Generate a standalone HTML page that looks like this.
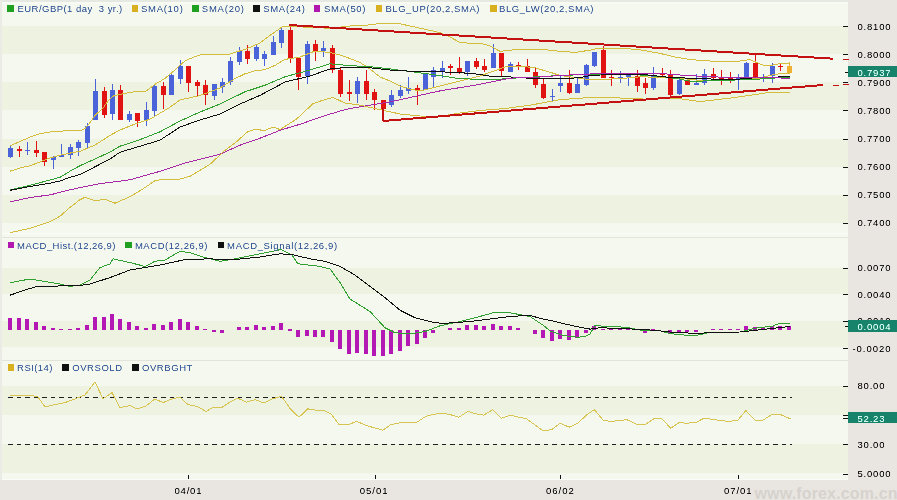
<!DOCTYPE html><html><head><meta charset="utf-8"><style>html,body{margin:0;padding:0;background:#e9e6e2;}svg{display:block}text{font-family:"Liberation Sans",sans-serif}</style></head><body>
<svg width="897" height="500" viewBox="0 0 897 500" shape-rendering="crispEdges">
<defs><filter id="crisp" x="0" y="0" width="897" height="500" filterUnits="userSpaceOnUse" color-interpolation-filters="sRGB"><feComponentTransfer><feFuncA type="linear" slope="1.35" intercept="-0.1"/></feComponentTransfer></filter></defs>
<rect x="0" y="0" width="897" height="500" fill="#e9e6e2"/>
<rect x="0" y="0" width="2" height="480" fill="#ebebe6"/>
<rect x="2" y="0" width="846" height="480" fill="#f5f8ef"/>
<rect x="2" y="26.1" width="846" height="28.1" fill="#eef2e1"/>
<rect x="2" y="82.3" width="846" height="28.1" fill="#eef2e1"/>
<rect x="2" y="138.5" width="846" height="28.1" fill="#eef2e1"/>
<rect x="2" y="194.7" width="846" height="28.1" fill="#eef2e1"/>
<rect x="2" y="267.6" width="846" height="26.6" fill="#eef2e1"/>
<rect x="2" y="320.8" width="846" height="26.6" fill="#eef2e1"/>
<rect x="2" y="385.8" width="846" height="29.1" fill="#eef2e1"/>
<rect x="2" y="444.0" width="846" height="29.1" fill="#eef2e1"/>
<rect x="2" y="0" width="846" height="2" fill="#e6e8e2"/>
<rect x="2" y="2" width="846" height="2" fill="#f8faf4"/>
<rect x="2" y="233" width="846" height="1" fill="#fbfcf8"/>
<rect x="2" y="237" width="846" height="1" fill="#e2e4da"/>
<rect x="2" y="360" width="846" height="1" fill="#e2e4da"/>
<rect x="2" y="479" width="846" height="1" fill="#fbfcf8"/>
<rect x="10" y="145" width="1" height="13" fill="#4a63d8"/>
<rect x="8" y="148" width="5" height="9" fill="#4a63d8"/>
<rect x="19" y="146" width="1" height="11" fill="#e01212"/>
<rect x="17" y="149" width="5" height="2" fill="#e01212"/>
<rect x="27" y="142" width="1" height="13" fill="#4a63d8"/>
<rect x="25" y="150" width="5" height="1" fill="#4a63d8"/>
<rect x="36" y="141" width="1" height="16" fill="#e01212"/>
<rect x="34" y="150" width="5" height="3" fill="#e01212"/>
<rect x="44" y="152" width="1" height="14" fill="#e01212"/>
<rect x="42" y="152" width="5" height="10" fill="#e01212"/>
<rect x="53" y="156" width="1" height="13" fill="#4a63d8"/>
<rect x="51" y="157" width="5" height="3" fill="#4a63d8"/>
<rect x="61" y="144" width="1" height="13" fill="#4a63d8"/>
<rect x="59" y="155" width="5" height="2" fill="#4a63d8"/>
<rect x="70" y="144" width="1" height="15" fill="#4a63d8"/>
<rect x="68" y="147" width="5" height="8" fill="#4a63d8"/>
<rect x="78" y="140" width="1" height="16" fill="#4a63d8"/>
<rect x="76" y="142" width="5" height="6" fill="#4a63d8"/>
<rect x="87" y="123" width="1" height="25" fill="#4a63d8"/>
<rect x="85" y="126" width="5" height="17" fill="#4a63d8"/>
<rect x="95" y="79" width="1" height="41" fill="#4a63d8"/>
<rect x="93" y="91" width="5" height="29" fill="#4a63d8"/>
<rect x="104" y="87" width="1" height="31" fill="#e01212"/>
<rect x="102" y="91" width="5" height="24" fill="#e01212"/>
<rect x="112" y="84" width="1" height="36" fill="#4a63d8"/>
<rect x="110" y="90" width="5" height="24" fill="#4a63d8"/>
<rect x="120" y="85" width="1" height="35" fill="#e01212"/>
<rect x="118" y="90" width="5" height="30" fill="#e01212"/>
<rect x="129" y="111" width="1" height="11" fill="#4a63d8"/>
<rect x="127" y="114" width="5" height="6" fill="#4a63d8"/>
<rect x="137" y="113" width="1" height="14" fill="#e01212"/>
<rect x="135" y="113" width="5" height="8" fill="#e01212"/>
<rect x="146" y="102" width="1" height="24" fill="#4a63d8"/>
<rect x="144" y="110" width="5" height="10" fill="#4a63d8"/>
<rect x="154" y="84" width="1" height="33" fill="#4a63d8"/>
<rect x="152" y="86" width="5" height="25" fill="#4a63d8"/>
<rect x="163" y="82" width="1" height="27" fill="#e01212"/>
<rect x="161" y="86" width="5" height="9" fill="#e01212"/>
<rect x="171" y="74" width="1" height="21" fill="#4a63d8"/>
<rect x="169" y="75" width="5" height="20" fill="#4a63d8"/>
<rect x="180" y="60" width="1" height="24" fill="#4a63d8"/>
<rect x="178" y="66" width="5" height="13" fill="#4a63d8"/>
<rect x="188" y="66" width="1" height="26" fill="#e01212"/>
<rect x="186" y="66" width="5" height="17" fill="#e01212"/>
<rect x="197" y="80" width="1" height="17" fill="#e01212"/>
<rect x="195" y="82" width="5" height="4" fill="#e01212"/>
<rect x="205" y="80" width="1" height="25" fill="#e01212"/>
<rect x="203" y="85" width="5" height="10" fill="#e01212"/>
<rect x="214" y="84" width="1" height="16" fill="#4a63d8"/>
<rect x="212" y="84" width="5" height="12" fill="#4a63d8"/>
<rect x="222" y="78" width="1" height="15" fill="#4a63d8"/>
<rect x="220" y="82" width="5" height="5" fill="#4a63d8"/>
<rect x="230" y="57" width="1" height="28" fill="#4a63d8"/>
<rect x="228" y="61" width="5" height="21" fill="#4a63d8"/>
<rect x="239" y="47" width="1" height="18" fill="#4a63d8"/>
<rect x="237" y="51" width="5" height="11" fill="#4a63d8"/>
<rect x="247" y="45" width="1" height="19" fill="#e01212"/>
<rect x="245" y="51" width="5" height="8" fill="#e01212"/>
<rect x="256" y="44" width="1" height="17" fill="#4a63d8"/>
<rect x="254" y="47" width="5" height="12" fill="#4a63d8"/>
<rect x="264" y="51" width="1" height="15" fill="#4a63d8"/>
<rect x="262" y="54" width="5" height="5" fill="#4a63d8"/>
<rect x="273" y="36" width="1" height="19" fill="#4a63d8"/>
<rect x="271" y="42" width="5" height="13" fill="#4a63d8"/>
<rect x="281" y="27" width="1" height="21" fill="#4a63d8"/>
<rect x="279" y="30" width="5" height="13" fill="#4a63d8"/>
<rect x="290" y="27" width="1" height="36" fill="#e01212"/>
<rect x="288" y="30" width="5" height="28" fill="#e01212"/>
<rect x="298" y="58" width="1" height="32" fill="#e01212"/>
<rect x="296" y="58" width="5" height="19" fill="#e01212"/>
<rect x="307" y="41" width="1" height="43" fill="#4a63d8"/>
<rect x="305" y="44" width="5" height="32" fill="#4a63d8"/>
<rect x="315" y="40" width="1" height="21" fill="#e01212"/>
<rect x="313" y="44" width="5" height="7" fill="#e01212"/>
<rect x="323" y="41" width="1" height="16" fill="#4a63d8"/>
<rect x="321" y="48" width="5" height="3" fill="#4a63d8"/>
<rect x="332" y="45" width="1" height="28" fill="#e01212"/>
<rect x="330" y="48" width="5" height="22" fill="#e01212"/>
<rect x="340" y="68" width="1" height="29" fill="#e01212"/>
<rect x="338" y="70" width="5" height="24" fill="#e01212"/>
<rect x="349" y="80" width="1" height="21" fill="#e01212"/>
<rect x="347" y="92" width="5" height="2" fill="#e01212"/>
<rect x="357" y="77" width="1" height="26" fill="#4a63d8"/>
<rect x="355" y="81" width="5" height="13" fill="#4a63d8"/>
<rect x="366" y="70" width="1" height="30" fill="#e01212"/>
<rect x="364" y="81" width="5" height="13" fill="#e01212"/>
<rect x="374" y="89" width="1" height="21" fill="#e01212"/>
<rect x="372" y="92" width="5" height="8" fill="#e01212"/>
<rect x="383" y="100" width="1" height="21" fill="#e01212"/>
<rect x="381" y="100" width="5" height="9" fill="#e01212"/>
<rect x="391" y="90" width="1" height="17" fill="#4a63d8"/>
<rect x="389" y="95" width="5" height="10" fill="#4a63d8"/>
<rect x="400" y="85" width="1" height="13" fill="#4a63d8"/>
<rect x="398" y="90" width="5" height="6" fill="#4a63d8"/>
<rect x="408" y="77" width="1" height="17" fill="#4a63d8"/>
<rect x="406" y="88" width="5" height="3" fill="#4a63d8"/>
<rect x="417" y="85" width="1" height="20" fill="#e01212"/>
<rect x="415" y="88" width="5" height="2" fill="#e01212"/>
<rect x="425" y="73" width="1" height="17" fill="#4a63d8"/>
<rect x="423" y="74" width="5" height="16" fill="#4a63d8"/>
<rect x="433" y="67" width="1" height="21" fill="#4a63d8"/>
<rect x="431" y="70" width="5" height="7" fill="#4a63d8"/>
<rect x="442" y="61" width="1" height="17" fill="#4a63d8"/>
<rect x="440" y="68" width="5" height="3" fill="#4a63d8"/>
<rect x="450" y="64" width="1" height="11" fill="#e01212"/>
<rect x="448" y="66" width="5" height="2" fill="#e01212"/>
<rect x="459" y="57" width="1" height="17" fill="#e01212"/>
<rect x="457" y="68" width="5" height="5" fill="#e01212"/>
<rect x="467" y="61" width="1" height="15" fill="#4a63d8"/>
<rect x="465" y="61" width="5" height="11" fill="#4a63d8"/>
<rect x="476" y="58" width="1" height="11" fill="#e01212"/>
<rect x="474" y="61" width="5" height="6" fill="#e01212"/>
<rect x="484" y="59" width="1" height="13" fill="#e01212"/>
<rect x="482" y="66" width="5" height="4" fill="#e01212"/>
<rect x="493" y="44" width="1" height="24" fill="#4a63d8"/>
<rect x="491" y="53" width="5" height="15" fill="#4a63d8"/>
<rect x="501" y="53" width="1" height="23" fill="#e01212"/>
<rect x="499" y="53" width="5" height="18" fill="#e01212"/>
<rect x="510" y="62" width="1" height="10" fill="#4a63d8"/>
<rect x="508" y="64" width="5" height="8" fill="#4a63d8"/>
<rect x="518" y="62" width="1" height="8" fill="#e01212"/>
<rect x="516" y="65" width="5" height="2" fill="#e01212"/>
<rect x="527" y="59" width="1" height="13" fill="#e01212"/>
<rect x="525" y="66" width="5" height="6" fill="#e01212"/>
<rect x="535" y="67" width="1" height="21" fill="#e01212"/>
<rect x="533" y="72" width="5" height="13" fill="#e01212"/>
<rect x="543" y="78" width="1" height="21" fill="#e01212"/>
<rect x="541" y="84" width="5" height="14" fill="#e01212"/>
<rect x="552" y="89" width="1" height="12" fill="#4a63d8"/>
<rect x="550" y="96" width="5" height="1" fill="#4a63d8"/>
<rect x="560" y="76" width="1" height="16" fill="#4a63d8"/>
<rect x="558" y="83" width="5" height="3" fill="#4a63d8"/>
<rect x="569" y="70" width="1" height="24" fill="#e01212"/>
<rect x="567" y="83" width="5" height="10" fill="#e01212"/>
<rect x="577" y="78" width="1" height="15" fill="#4a63d8"/>
<rect x="575" y="84" width="5" height="9" fill="#4a63d8"/>
<rect x="586" y="64" width="1" height="22" fill="#4a63d8"/>
<rect x="584" y="65" width="5" height="20" fill="#4a63d8"/>
<rect x="594" y="52" width="1" height="15" fill="#4a63d8"/>
<rect x="592" y="52" width="5" height="14" fill="#4a63d8"/>
<rect x="603" y="46" width="1" height="32" fill="#e01212"/>
<rect x="601" y="50" width="5" height="28" fill="#e01212"/>
<rect x="611" y="70" width="1" height="16" fill="#e01212"/>
<rect x="609" y="77" width="5" height="1" fill="#e01212"/>
<rect x="620" y="71" width="1" height="12" fill="#4a63d8"/>
<rect x="618" y="77" width="5" height="1" fill="#4a63d8"/>
<rect x="628" y="74" width="1" height="12" fill="#4a63d8"/>
<rect x="626" y="74" width="5" height="3" fill="#4a63d8"/>
<rect x="637" y="70" width="1" height="22" fill="#e01212"/>
<rect x="635" y="76" width="5" height="10" fill="#e01212"/>
<rect x="645" y="78" width="1" height="16" fill="#e01212"/>
<rect x="643" y="83" width="5" height="5" fill="#e01212"/>
<rect x="653" y="67" width="1" height="23" fill="#4a63d8"/>
<rect x="651" y="76" width="5" height="12" fill="#4a63d8"/>
<rect x="662" y="68" width="1" height="9" fill="#e01212"/>
<rect x="660" y="74" width="5" height="1" fill="#e01212"/>
<rect x="670" y="70" width="1" height="28" fill="#e01212"/>
<rect x="668" y="74" width="5" height="21" fill="#e01212"/>
<rect x="679" y="78" width="1" height="17" fill="#4a63d8"/>
<rect x="677" y="80" width="5" height="14" fill="#4a63d8"/>
<rect x="687" y="78" width="1" height="7" fill="#e01212"/>
<rect x="685" y="80" width="5" height="5" fill="#e01212"/>
<rect x="696" y="74" width="1" height="11" fill="#4a63d8"/>
<rect x="694" y="83" width="5" height="2" fill="#4a63d8"/>
<rect x="704" y="69" width="1" height="16" fill="#4a63d8"/>
<rect x="702" y="74" width="5" height="9" fill="#4a63d8"/>
<rect x="713" y="68" width="1" height="11" fill="#e01212"/>
<rect x="711" y="74" width="5" height="4" fill="#e01212"/>
<rect x="721" y="70" width="1" height="15" fill="#e01212"/>
<rect x="719" y="78" width="5" height="2" fill="#e01212"/>
<rect x="730" y="72" width="1" height="11" fill="#e01212"/>
<rect x="728" y="78" width="5" height="1" fill="#e01212"/>
<rect x="738" y="74" width="1" height="16" fill="#4a63d8"/>
<rect x="736" y="78" width="5" height="1" fill="#4a63d8"/>
<rect x="746" y="62" width="1" height="16" fill="#4a63d8"/>
<rect x="744" y="63" width="5" height="16" fill="#4a63d8"/>
<rect x="755" y="55" width="1" height="23" fill="#e01212"/>
<rect x="753" y="63" width="5" height="16" fill="#e01212"/>
<rect x="763" y="74" width="1" height="8" fill="#4a63d8"/>
<rect x="761" y="78" width="5" height="1" fill="#4a63d8"/>
<rect x="772" y="63" width="1" height="20" fill="#4a63d8"/>
<rect x="770" y="66" width="5" height="10" fill="#4a63d8"/>
<rect x="780" y="64" width="1" height="7" fill="#e01212"/>
<rect x="778" y="66" width="5" height="1" fill="#e01212"/>
<rect x="789" y="62" width="1" height="12" fill="#f0b030"/>
<rect x="787" y="66" width="5" height="7" fill="#f0b030"/>
<polyline points="10.0,171.2 20.0,167.9 30.0,165.7 40.0,161.9 50.0,158.0 60.0,155.3 70.0,153.1 80.0,151.4 95.0,145.0 110.0,135.4 120.0,130.0 135.0,124.0 150.0,119.2 160.0,113.2 170.0,107.2 180.0,100.0 200.0,95.5 220.0,88.0 235.0,78.6 245.0,73.8 255.0,70.8 265.0,69.6 275.0,65.4 285.0,59.4 300.0,57.0 315.0,51.0 330.0,52.5 340.0,55.0 350.0,58.5 360.0,62.5 370.0,69.0 380.0,77.0 390.0,81.0 400.0,86.0 410.0,89.0 420.0,91.0 440.0,86.0 460.0,81.0 480.0,76.0 505.0,67.0 520.0,66.0 535.0,67.8 550.0,72.2 560.0,75.5 585.0,79.0 600.0,79.5 620.0,78.6 640.0,76.8 675.0,77.7 700.0,80.4 735.0,79.3 760.0,78.0 775.0,74.3 790.0,72.9" fill="none" stroke="#d4bc3c" stroke-width="1" shape-rendering="crispEdges"/>
<polyline points="10.0,189.8 30.0,185.4 50.0,180.0 60.0,177.3 70.0,171.2 80.0,165.7 95.0,159.0 110.0,152.0 120.0,146.2 140.0,139.6 160.0,131.8 180.0,121.0 200.0,112.0 220.0,104.0 245.0,91.8 265.0,85.2 285.0,76.8 310.0,70.0 330.0,63.8 350.0,65.6 370.0,66.7 390.0,68.9 415.0,72.2 440.0,75.5 460.0,78.8 480.0,79.2 500.0,79.2 520.0,77.7 560.0,75.5 590.0,74.4 620.0,74.6 640.0,75.0 660.0,76.4 680.0,79.0 690.0,81.3 720.0,80.6 760.0,79.0 790.0,77.0" fill="none" stroke="#30a030" stroke-width="1" shape-rendering="crispEdges"/>
<polyline points="10.0,190.3 30.0,186.5 50.0,183.2 60.0,181.0 70.0,177.3 80.0,174.5 95.0,166.8 110.0,159.0 120.0,152.2 140.0,146.2 160.0,140.2 180.0,127.0 200.0,120.0 220.0,114.0 240.0,104.0 260.0,95.4 285.0,82.0 310.0,76.0 330.0,69.0 350.0,67.0 370.0,67.8 390.0,70.0 420.0,71.8 440.0,71.8 460.0,72.6 480.0,74.4 490.0,76.2 505.0,76.6 520.0,77.7 540.0,78.8 560.0,78.8 580.0,77.7 590.0,75.5 620.0,74.1 640.0,74.1 670.0,77.5 700.0,78.5 730.0,79.9 750.0,78.1 775.0,77.1 790.0,76.7" fill="none" stroke="#101010" stroke-width="1" shape-rendering="crispEdges"/>
<polyline points="10.0,201.9 30.0,197.5 50.0,194.9 70.0,189.8 80.0,187.6 100.0,183.7 130.0,179.8 160.0,171.3 184.0,163.3 220.0,154.2 240.0,145.2 260.0,138.2 280.5,130.1 300.6,124.1 320.6,117.1 340.0,111.0 350.0,108.5 370.0,105.2 390.0,101.9 410.0,97.5 420.0,95.3 440.0,90.9 460.0,87.6 480.0,84.3 505.0,79.2 520.0,77.0 540.0,77.0 560.0,75.5 590.0,74.0 620.0,73.2 660.0,73.2 670.0,74.3 690.0,75.7 720.0,77.1 760.0,77.8 790.0,78.1" fill="none" stroke="#a828a8" stroke-width="1" shape-rendering="crispEdges"/>
<polyline points="10.0,145.9 20.0,141.5 30.0,137.1 40.0,133.8 50.0,132.0 60.0,131.2 70.0,130.5 80.0,131.0 85.0,128.5 90.0,122.6 95.0,115.4 103.0,108.2 108.0,101.0 114.0,95.4 120.0,94.6 130.0,92.2 146.0,91.0 155.0,84.4 165.0,78.4 175.0,70.0 180.0,65.2 185.0,61.0 190.0,58.6 200.0,55.0 220.0,54.4 230.0,54.0 246.0,49.0 260.0,43.0 272.0,34.0 282.0,27.0 290.0,26.0 310.0,27.6 330.0,28.2 350.0,26.0 370.0,24.9 380.0,23.4 400.0,23.8 415.0,27.1 430.0,30.4 440.0,32.6 450.0,37.0 460.0,42.5 475.0,43.6 480.0,43.2 490.0,45.8 500.0,51.3 520.0,49.1 540.0,49.1 560.0,51.3 575.0,52.4 590.0,50.2 600.0,48.0 620.0,48.0 640.0,49.8 660.0,53.4 675.0,57.0 690.0,59.6 710.0,61.0 740.0,61.0 750.0,59.6 758.0,63.1 765.0,65.9 772.0,65.2 780.0,63.5 790.0,63.1" fill="none" stroke="#d4bc3c" stroke-width="1" shape-rendering="crispEdges"/>
<polyline points="10.0,232.7 30.0,228.3 50.0,221.7 60.0,216.2 70.0,207.4 80.0,199.7 85.0,197.2 95.0,200.6 105.0,199.3 115.0,203.2 130.0,196.7 145.0,187.6 155.0,180.6 165.0,179.0 180.0,179.0 190.0,176.3 210.0,164.3 224.0,151.2 236.0,142.2 248.0,131.5 256.0,129.1 264.0,130.7 273.0,127.1 280.0,129.5 296.5,119.1 312.6,104.0 320.6,101.0 332.7,97.4 345.0,103.0 360.0,105.2 380.0,109.6 400.0,114.0 420.0,116.0 440.0,116.5 460.0,113.0 480.0,110.5 505.0,108.5 530.0,105.2 560.0,99.7 590.0,97.5 620.0,98.0 650.0,99.3 675.0,98.0 700.0,101.6 730.0,98.1 760.0,93.9 770.0,92.1 790.0,92.1" fill="none" stroke="#d4bc3c" stroke-width="1" shape-rendering="crispEdges"/>
<line x1="289" y1="25" x2="833" y2="58.7" stroke="#c41212" stroke-width="2" shape-rendering="crispEdges"/>
<line x1="383" y1="121" x2="823" y2="85" stroke="#c41212" stroke-width="2" shape-rendering="crispEdges"/>
<rect x="382" y="108" width="1.5" height="13" fill="#c41212"/>
<rect x="843" y="59" width="6" height="1" fill="#c41212"/>
<rect x="833" y="85" width="6" height="1" fill="#c41212"/>
<rect x="843" y="84" width="6" height="1" fill="#c41212"/>
<rect x="8" y="317.8" width="4" height="11.9" fill="#b418b4"/>
<rect x="17" y="317.8" width="4" height="11.9" fill="#b418b4"/>
<rect x="25" y="319.0" width="4" height="10.7" fill="#b418b4"/>
<rect x="34" y="321.5" width="4" height="8.2" fill="#b418b4"/>
<rect x="42" y="325.8" width="4" height="3.9" fill="#b418b4"/>
<rect x="51" y="327.8" width="4" height="1.9" fill="#b418b4"/>
<rect x="59" y="328.5" width="4" height="1.5" fill="#b418b4"/>
<rect x="68" y="328.5" width="4" height="1.5" fill="#b418b4"/>
<rect x="76" y="328.0" width="4" height="1.7" fill="#b418b4"/>
<rect x="85" y="324.5" width="4" height="5.2" fill="#b418b4"/>
<rect x="93" y="316.5" width="4" height="13.2" fill="#b418b4"/>
<rect x="102" y="316.5" width="4" height="13.2" fill="#b418b4"/>
<rect x="110" y="314.0" width="4" height="15.7" fill="#b418b4"/>
<rect x="118" y="319.0" width="4" height="10.7" fill="#b418b4"/>
<rect x="127" y="321.5" width="4" height="8.2" fill="#b418b4"/>
<rect x="135" y="325.8" width="4" height="3.9" fill="#b418b4"/>
<rect x="144" y="327.8" width="4" height="1.9" fill="#b418b4"/>
<rect x="152" y="324.0" width="4" height="5.7" fill="#b418b4"/>
<rect x="161" y="324.8" width="4" height="4.9" fill="#b418b4"/>
<rect x="169" y="321.5" width="4" height="8.2" fill="#b418b4"/>
<rect x="178" y="319.0" width="4" height="10.7" fill="#b418b4"/>
<rect x="186" y="321.5" width="4" height="8.2" fill="#b418b4"/>
<rect x="195" y="325.8" width="4" height="3.9" fill="#b418b4"/>
<rect x="203" y="328.5" width="4" height="1.5" fill="#b418b4"/>
<rect x="212" y="329.7" width="4" height="2.2" fill="#b418b4"/>
<rect x="220" y="329.7" width="4" height="3.4" fill="#b418b4"/>
<rect x="237" y="326.5" width="4" height="3.2" fill="#b418b4"/>
<rect x="245" y="326.5" width="4" height="3.2" fill="#b418b4"/>
<rect x="254" y="324.5" width="4" height="5.2" fill="#b418b4"/>
<rect x="262" y="326.5" width="4" height="3.2" fill="#b418b4"/>
<rect x="271" y="325.8" width="4" height="3.9" fill="#b418b4"/>
<rect x="279" y="323.3" width="4" height="6.4" fill="#b418b4"/>
<rect x="288" y="329.0" width="4" height="1.5" fill="#b418b4"/>
<rect x="296" y="329.7" width="4" height="7.7" fill="#b418b4"/>
<rect x="305" y="329.7" width="4" height="6.4" fill="#b418b4"/>
<rect x="313" y="329.7" width="4" height="7.7" fill="#b418b4"/>
<rect x="321" y="329.7" width="4" height="7.7" fill="#b418b4"/>
<rect x="330" y="329.7" width="4" height="12.7" fill="#b418b4"/>
<rect x="338" y="329.7" width="4" height="19.0" fill="#b418b4"/>
<rect x="347" y="329.7" width="4" height="24.0" fill="#b418b4"/>
<rect x="355" y="329.7" width="4" height="23.5" fill="#b418b4"/>
<rect x="364" y="329.7" width="4" height="24.0" fill="#b418b4"/>
<rect x="372" y="329.7" width="4" height="26.0" fill="#b418b4"/>
<rect x="381" y="329.7" width="4" height="26.5" fill="#b418b4"/>
<rect x="389" y="329.7" width="4" height="24.0" fill="#b418b4"/>
<rect x="398" y="329.7" width="4" height="21.5" fill="#b418b4"/>
<rect x="406" y="329.7" width="4" height="16.5" fill="#b418b4"/>
<rect x="415" y="329.7" width="4" height="13.9" fill="#b418b4"/>
<rect x="423" y="329.7" width="4" height="8.4" fill="#b418b4"/>
<rect x="431" y="329.7" width="4" height="3.4" fill="#b418b4"/>
<rect x="448" y="328.0" width="4" height="1.7" fill="#b418b4"/>
<rect x="457" y="328.0" width="4" height="1.7" fill="#b418b4"/>
<rect x="465" y="325.0" width="4" height="4.7" fill="#b418b4"/>
<rect x="474" y="325.0" width="4" height="4.7" fill="#b418b4"/>
<rect x="482" y="326.0" width="4" height="3.7" fill="#b418b4"/>
<rect x="491" y="323.9" width="4" height="5.8" fill="#b418b4"/>
<rect x="499" y="326.0" width="4" height="3.7" fill="#b418b4"/>
<rect x="508" y="326.0" width="4" height="3.7" fill="#b418b4"/>
<rect x="516" y="327.9" width="4" height="1.8" fill="#b418b4"/>
<rect x="533" y="329.7" width="4" height="4.5" fill="#b418b4"/>
<rect x="541" y="329.7" width="4" height="8.6" fill="#b418b4"/>
<rect x="550" y="329.7" width="4" height="11.2" fill="#b418b4"/>
<rect x="558" y="329.7" width="4" height="9.4" fill="#b418b4"/>
<rect x="567" y="329.7" width="4" height="10.6" fill="#b418b4"/>
<rect x="575" y="329.7" width="4" height="7.9" fill="#b418b4"/>
<rect x="584" y="329.7" width="4" height="3.3" fill="#b418b4"/>
<rect x="592" y="326.3" width="4" height="3.4" fill="#b418b4"/>
<rect x="601" y="328.6" width="4" height="1.5" fill="#b418b4"/>
<rect x="609" y="328.6" width="4" height="1.5" fill="#b418b4"/>
<rect x="618" y="328.6" width="4" height="1.5" fill="#b418b4"/>
<rect x="626" y="328.6" width="4" height="1.5" fill="#b418b4"/>
<rect x="635" y="328.6" width="4" height="1.5" fill="#b418b4"/>
<rect x="643" y="329.7" width="4" height="3.2" fill="#b418b4"/>
<rect x="651" y="328.6" width="4" height="1.5" fill="#b418b4"/>
<rect x="668" y="329.7" width="4" height="4.1" fill="#b418b4"/>
<rect x="677" y="329.7" width="4" height="3.2" fill="#b418b4"/>
<rect x="685" y="329.7" width="4" height="2.5" fill="#b418b4"/>
<rect x="694" y="329.7" width="4" height="2.5" fill="#b418b4"/>
<rect x="711" y="328.6" width="4" height="1.5" fill="#b418b4"/>
<rect x="719" y="328.6" width="4" height="1.5" fill="#b418b4"/>
<rect x="728" y="328.6" width="4" height="1.5" fill="#b418b4"/>
<rect x="736" y="328.6" width="4" height="1.5" fill="#b418b4"/>
<rect x="744" y="326.0" width="4" height="3.7" fill="#b418b4"/>
<rect x="753" y="327.2" width="4" height="2.5" fill="#b418b4"/>
<rect x="761" y="327.2" width="4" height="2.5" fill="#b418b4"/>
<rect x="770" y="325.6" width="4" height="4.1" fill="#b418b4"/>
<rect x="778" y="325.6" width="4" height="4.1" fill="#b418b4"/>
<rect x="787" y="326.0" width="4" height="3.7" fill="#b418b4"/>
<polyline points="10.0,282.7 30.0,279.0 60.0,284.0 70.0,286.4 80.0,285.0 90.0,280.0 100.0,267.6 110.0,264.0 113.0,258.8 130.0,262.6 145.0,266.4 155.0,261.3 165.0,260.0 180.0,251.3 190.0,252.6 205.0,257.6 220.0,261.3 235.0,258.8 260.0,253.8 281.0,249.5 292.0,255.0 298.0,263.8 320.0,266.4 330.0,268.9 340.0,282.6 350.0,299.0 370.0,311.5 385.0,327.8 395.0,332.8 410.0,334.0 425.0,331.6 440.0,325.8 460.0,321.5 475.0,317.8 493.0,312.8 510.0,312.8 530.0,316.5 545.0,326.5 550.0,330.9 560.0,334.5 570.0,336.7 578.0,337.1 585.0,336.7 590.0,334.0 595.0,325.1 604.0,326.4 620.0,326.9 630.0,328.0 644.0,330.7 660.0,330.7 669.6,333.5 683.7,335.0 697.7,335.0 709.4,332.6 740.0,332.0 754.0,328.4 772.7,326.0 779.7,323.2 790.0,323.2" fill="none" stroke="#30a030" stroke-width="1" shape-rendering="crispEdges"/>
<polyline points="10.0,295.2 25.0,290.0 35.0,287.0 50.0,286.2 80.0,285.5 90.0,284.0 110.0,277.6 130.0,270.0 145.0,267.6 160.0,265.0 185.0,259.6 210.0,258.8 230.0,260.0 260.0,257.0 280.0,253.8 292.0,254.6 310.0,258.8 325.0,261.3 340.0,266.4 355.0,275.0 370.0,286.4 385.0,297.7 400.0,310.2 415.0,317.8 435.0,322.8 445.0,323.3 470.0,321.5 490.0,319.0 510.0,316.5 530.0,315.3 540.0,318.4 555.0,321.5 570.0,325.1 585.0,328.2 590.0,329.1 600.0,327.8 620.0,328.4 630.0,328.9 655.6,330.3 669.6,332.0 697.7,333.5 709.4,332.6 740.0,332.0 768.0,328.9 790.0,326.5" fill="none" stroke="#101010" stroke-width="1" shape-rendering="crispEdges"/>
<line x1="8" y1="397.5" x2="792" y2="397.5" stroke="#202020" stroke-width="1" stroke-dasharray="4.5,4"/>
<line x1="8" y1="444.5" x2="792" y2="444.5" stroke="#202020" stroke-width="1" stroke-dasharray="4.5,4"/>
<polyline points="10.0,395.0 30.0,395.0 38.0,397.0 45.0,407.0 55.0,404.6 65.0,402.6 75.0,398.9 85.0,395.0 95.0,382.0 103.0,398.9 112.0,392.6 120.0,407.7 130.0,405.6 137.0,408.9 146.0,405.9 155.0,398.9 163.0,402.6 172.0,398.9 180.0,397.1 188.0,404.6 197.0,406.4 206.0,411.4 213.8,407.1 222.5,407.1 230.0,402.0 237.6,398.1 246.4,402.1 255.0,399.6 264.0,403.1 272.7,398.8 281.5,396.3 290.3,408.9 299.0,417.2 307.8,408.9 315.3,410.1 322.9,410.1 331.0,414.0 339.2,424.7 348.0,424.7 356.7,421.4 366.8,425.7 375.0,428.0 383.0,430.2 390.6,424.7 400.6,422.7 408.0,422.7 417.0,422.2 425.7,416.4 432.5,414.6 441.3,413.1 450.1,414.6 458.9,417.2 467.6,411.4 476.4,413.9 483.9,415.1 492.7,409.6 501.5,418.2 510.3,415.1 519.1,417.2 526.6,418.9 535.4,425.2 542.9,430.7 551.7,429.7 560.4,423.2 569.2,427.2 578.0,423.2 586.8,414.6 594.3,409.6 603.1,420.2 610.6,421.4 618.1,420.7 626.9,419.7 637.5,424.7 645.0,424.7 653.8,418.9 662.1,418.9 670.6,428.2 678.9,422.7 687.7,423.2 696.5,422.2 704.0,418.2 712.8,419.4 721.5,420.7 729.0,421.4 737.9,420.2 745.9,410.6 755.4,420.2 762.9,420.2 771.7,414.6 780.5,414.6 790.5,418.9" fill="none" stroke="#d8c452" stroke-width="1" shape-rendering="crispEdges"/>
<rect x="7.3" y="5.3" width="6.5" height="6.5" fill="#20a020"/>
<text x="17.5" y="12.0" font-size="9.5" fill="#3d5f9c" textLength="104.7" lengthAdjust="spacing" filter="url(#crisp)">EUR/GBP(1 day&#160;&#160;3 yr.)</text>
<rect x="131.8" y="5.3" width="6.5" height="6.5" fill="#d8b020"/>
<text x="141.0" y="12.0" font-size="9.5" fill="#3d5f9c" textLength="41.8" lengthAdjust="spacing" filter="url(#crisp)">SMA(10)</text>
<rect x="192.3" y="5.3" width="6.5" height="6.5" fill="#20a020"/>
<text x="201.8" y="12.0" font-size="9.5" fill="#3d5f9c" textLength="42.2" lengthAdjust="spacing" filter="url(#crisp)">SMA(20)</text>
<rect x="253.0" y="5.3" width="6.5" height="6.5" fill="#101010"/>
<text x="263.2" y="12.0" font-size="9.5" fill="#3d5f9c" textLength="41.7" lengthAdjust="spacing" filter="url(#crisp)">SMA(24)</text>
<rect x="313.9" y="5.3" width="6.5" height="6.5" fill="#b018b0"/>
<text x="323.9" y="12.0" font-size="9.5" fill="#3d5f9c" textLength="41.6" lengthAdjust="spacing" filter="url(#crisp)">SMA(50)</text>
<rect x="375.6" y="5.3" width="6.5" height="6.5" fill="#d8b020"/>
<text x="385.4" y="12.0" font-size="9.5" fill="#3d5f9c" textLength="94.1" lengthAdjust="spacing" filter="url(#crisp)">BLG_UP(20,2,SMA)</text>
<rect x="490.0" y="5.3" width="6.5" height="6.5" fill="#d8b020"/>
<text x="499.0" y="12.0" font-size="9.5" fill="#3d5f9c" textLength="94.5" lengthAdjust="spacing" filter="url(#crisp)">BLG_LW(20,2,SMA)</text>
<rect x="7.5" y="241.5" width="6.5" height="6.5" fill="#b018b0"/>
<text x="17.1" y="248.5" font-size="9.5" fill="#3d5f9c" textLength="98.4" lengthAdjust="spacing" filter="url(#crisp)">MACD_Hist.(12,26,9)</text>
<rect x="125.4" y="241.5" width="6.5" height="6.5" fill="#20a020"/>
<text x="134.9" y="248.5" font-size="9.5" fill="#3d5f9c" textLength="72.6" lengthAdjust="spacing" filter="url(#crisp)">MACD(12,26,9)</text>
<rect x="217.5" y="241.5" width="6.5" height="6.5" fill="#101010"/>
<text x="227.1" y="248.5" font-size="9.5" fill="#3d5f9c" textLength="110.1" lengthAdjust="spacing" filter="url(#crisp)">MACD_Signal(12,26,9)</text>
<rect x="7.8" y="364.0" width="6.5" height="6.5" fill="#d8b020"/>
<text x="17.1" y="371.0" font-size="9.5" fill="#3d5f9c" textLength="35.4" lengthAdjust="spacing" filter="url(#crisp)">RSI(14)</text>
<rect x="62.2" y="364.0" width="6.5" height="6.5" fill="#101010"/>
<text x="72.2" y="371.0" font-size="9.5" fill="#3d5f9c" textLength="49.9" lengthAdjust="spacing" filter="url(#crisp)">OVRSOLD</text>
<rect x="132.4" y="364.0" width="6.5" height="6.5" fill="#101010"/>
<text x="142.0" y="371.0" font-size="9.5" fill="#3d5f9c" textLength="50.4" lengthAdjust="spacing" filter="url(#crisp)">OVRBGHT</text>
<rect x="843" y="26" width="5" height="1" fill="#101010"/>
<text x="857.5" y="29.6" font-size="9.5" fill="#101010" textLength="33.0" lengthAdjust="spacing" filter="url(#crisp)">0.8100</text>
<rect x="843" y="54" width="5" height="1" fill="#101010"/>
<text x="857.5" y="57.6" font-size="9.5" fill="#101010" textLength="33.0" lengthAdjust="spacing" filter="url(#crisp)">0.8000</text>
<rect x="843" y="82" width="5" height="1" fill="#101010"/>
<text x="857.5" y="85.7" font-size="9.5" fill="#101010" textLength="33.0" lengthAdjust="spacing" filter="url(#crisp)">0.7900</text>
<rect x="843" y="110" width="5" height="1" fill="#101010"/>
<text x="857.5" y="113.7" font-size="9.5" fill="#101010" textLength="33.0" lengthAdjust="spacing" filter="url(#crisp)">0.7800</text>
<rect x="843" y="139" width="5" height="1" fill="#101010"/>
<text x="857.5" y="141.9" font-size="9.5" fill="#101010" textLength="33.0" lengthAdjust="spacing" filter="url(#crisp)">0.7700</text>
<rect x="843" y="167" width="5" height="1" fill="#101010"/>
<text x="857.5" y="170.0" font-size="9.5" fill="#101010" textLength="33.0" lengthAdjust="spacing" filter="url(#crisp)">0.7600</text>
<rect x="843" y="195" width="5" height="1" fill="#101010"/>
<text x="857.5" y="198.1" font-size="9.5" fill="#101010" textLength="33.0" lengthAdjust="spacing" filter="url(#crisp)">0.7500</text>
<rect x="843" y="223" width="5" height="1" fill="#101010"/>
<text x="857.5" y="226.2" font-size="9.5" fill="#101010" textLength="33.0" lengthAdjust="spacing" filter="url(#crisp)">0.7400</text>
<rect x="843" y="268" width="5" height="1" fill="#101010"/>
<text x="857.5" y="271.1" font-size="9.5" fill="#101010" textLength="33.0" lengthAdjust="spacing" filter="url(#crisp)">0.0070</text>
<rect x="843" y="294" width="5" height="1" fill="#101010"/>
<text x="857.5" y="297.6" font-size="9.5" fill="#101010" textLength="33.0" lengthAdjust="spacing" filter="url(#crisp)">0.0040</text>
<rect x="843" y="321" width="5" height="1" fill="#101010"/>
<text x="857.5" y="324.3" font-size="9.5" fill="#101010" textLength="33.0" lengthAdjust="spacing" filter="url(#crisp)">0.0010</text>
<rect x="843" y="348" width="5" height="1" fill="#101010"/>
<text x="852.5" y="351.6" font-size="9.5" fill="#101010" textLength="38.0" lengthAdjust="spacing" filter="url(#crisp)">-0.0020</text>
<rect x="843" y="386" width="5" height="1" fill="#101010"/>
<text x="857.5" y="388.9" font-size="9.5" fill="#101010" textLength="27.0" lengthAdjust="spacing" filter="url(#crisp)">80.00</text>
<rect x="843" y="415" width="5" height="1" fill="#101010"/>
<rect x="843" y="444" width="5" height="1" fill="#101010"/>
<text x="857.5" y="447.5" font-size="9.5" fill="#101010" textLength="27.0" lengthAdjust="spacing" filter="url(#crisp)">30.00</text>
<rect x="843" y="474" width="5" height="1" fill="#101010"/>
<text x="857.5" y="477.0" font-size="9.5" fill="#101010" textLength="33.0" lengthAdjust="spacing" filter="url(#crisp)">5.0000</text>
<rect x="845" y="72" width="3" height="1" fill="#101010"/>
<rect x="848" y="66.2" width="49" height="11.2" fill="#17836a"/>
<text x="857.5" y="75.8" font-size="9.5" fill="#d8fff4" textLength="33.0" lengthAdjust="spacing" filter="url(#crisp)">0.7937</text>
<rect x="845" y="326" width="3" height="1" fill="#101010"/>
<rect x="848" y="320.1" width="49" height="11.6" fill="#17836a"/>
<text x="857.5" y="329.6" font-size="9.5" fill="#d8fff4" textLength="33.0" lengthAdjust="spacing" filter="url(#crisp)">0.0004</text>
<rect x="843" y="417.5" width="5" height="1" fill="#101010"/>
<rect x="848" y="411.8" width="49" height="11.6" fill="#17836a"/>
<text x="857.5" y="421.8" font-size="9.5" fill="#d8fff4" textLength="27.0" lengthAdjust="spacing" filter="url(#crisp)">52.23</text>
<rect x="188" y="475" width="1" height="4" fill="#101010"/>
<text x="174.5" y="494.3" font-size="9.6" fill="#101010" textLength="27.0" lengthAdjust="spacing" filter="url(#crisp)">04/01</text>
<rect x="375" y="475" width="1" height="4" fill="#101010"/>
<text x="359.8" y="494.3" font-size="9.6" fill="#101010" textLength="27.7" lengthAdjust="spacing" filter="url(#crisp)">05/01</text>
<rect x="560" y="475" width="1" height="4" fill="#101010"/>
<text x="545.9" y="494.3" font-size="9.6" fill="#101010" textLength="27.9" lengthAdjust="spacing" filter="url(#crisp)">06/02</text>
<rect x="738" y="475" width="1" height="4" fill="#101010"/>
<text x="724.1" y="494.3" font-size="9.6" fill="#101010" textLength="27.4" lengthAdjust="spacing" filter="url(#crisp)">07/01</text>
<text x="754.5" y="499" font-size="16" font-weight="bold" fill="#d6d2cd" textLength="143" lengthAdjust="spacing">www.forex.com.cn</text>
</svg></body></html>
